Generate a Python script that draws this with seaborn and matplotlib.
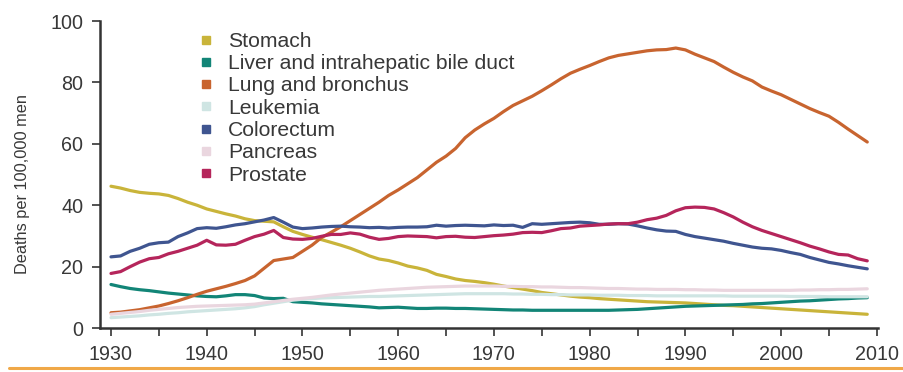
import matplotlib
matplotlib.use("Agg")
import matplotlib.pyplot as plt
from matplotlib.lines import Line2D
import numpy as np
import pandas as pd
import seaborn as sns

years = list(range(1930, 2010))

stomach = [
    46.2, 45.6, 44.8, 44.2, 43.9, 43.7, 43.2, 42.2, 41.0, 40.0,
    38.8, 38.0, 37.2, 36.5, 35.6, 35.0, 34.8, 34.6, 33.0, 31.5,
    30.5, 29.6, 28.8, 27.9, 27.0, 26.0, 24.8, 23.5, 22.5, 22.0,
    21.2, 20.2, 19.6, 18.8, 17.5, 16.8, 16.0, 15.5, 15.2, 14.8,
    14.3, 13.7, 13.2, 12.7, 12.2, 11.6, 11.2, 10.8, 10.4, 10.1,
    9.9, 9.6, 9.4, 9.2, 9.0, 8.8, 8.6, 8.5, 8.4, 8.3,
    8.2, 8.0, 7.8, 7.6, 7.4, 7.3, 7.1, 6.9, 6.7, 6.5,
    6.3, 6.1, 5.9, 5.7, 5.5, 5.3, 5.1, 4.9, 4.7, 4.5,
]
liver = [
    14.2, 13.5, 12.9, 12.5, 12.2, 11.8, 11.4, 11.1, 10.8, 10.5,
    10.3, 10.2, 10.5, 10.9, 10.9, 10.6, 9.8, 9.6, 9.7, 8.6,
    8.4, 8.2, 7.9, 7.7, 7.5, 7.3, 7.1, 6.9, 6.6, 6.7,
    6.8, 6.6, 6.4, 6.4, 6.5, 6.5, 6.4, 6.4, 6.3, 6.2,
    6.1, 6.0, 5.9, 5.9, 5.8, 5.8, 5.8, 5.8, 5.8, 5.8,
    5.8, 5.8, 5.8, 5.9, 6.0, 6.1, 6.3, 6.5, 6.7, 6.9,
    7.1, 7.2, 7.3, 7.4, 7.5, 7.6, 7.7, 7.9, 8.0, 8.2,
    8.4, 8.6, 8.8, 8.9, 9.1, 9.3, 9.5, 9.6, 9.8, 9.9,
]
lung = [
    5.0, 5.2, 5.6, 6.0, 6.6, 7.2, 8.0, 8.9, 9.9, 11.0,
    12.0, 12.8, 13.6, 14.5, 15.5, 17.0, 19.5, 22.0, 22.5, 23.0,
    25.0, 27.0, 29.5, 31.2, 33.0, 35.0, 37.0, 39.0, 41.0, 43.2,
    45.0, 47.0, 49.0, 51.5, 54.0, 56.0, 58.5, 62.0, 64.5, 66.5,
    68.3, 70.5, 72.5, 74.0, 75.5, 77.3, 79.2, 81.2, 83.0, 84.3,
    85.5, 86.8, 88.0, 88.8, 89.3, 89.8, 90.3, 90.6, 90.7, 91.2,
    90.6, 89.2, 88.0, 86.8, 85.0, 83.3, 81.8, 80.5, 78.5, 77.2,
    76.0, 74.5, 73.0, 71.5, 70.2, 69.0, 67.0, 64.8, 62.7, 60.6,
]
leukemia = [
    3.4, 3.6, 3.8, 4.0, 4.3, 4.5, 4.8, 5.0, 5.3, 5.5,
    5.7, 5.9, 6.1, 6.3, 6.6, 7.0, 7.6, 8.1, 8.6, 9.1,
    9.4, 9.6, 9.8, 9.9, 10.0, 10.1, 10.2, 10.3, 10.3, 10.4,
    10.5, 10.6, 10.7, 10.8, 10.9, 11.0, 11.1, 11.2, 11.2, 11.2,
    11.2, 11.2, 11.1, 11.1, 11.0, 11.0, 10.9, 10.9, 10.8, 10.8,
    10.8, 10.7, 10.7, 10.7, 10.6, 10.6, 10.6, 10.5, 10.5, 10.5,
    10.5, 10.5, 10.5, 10.5, 10.5, 10.4, 10.4, 10.4, 10.4, 10.4,
    10.4, 10.3, 10.3, 10.3, 10.3, 10.2, 10.2, 10.2, 10.2, 10.2,
]
colorectum = [
    23.2, 23.5, 25.0, 26.0, 27.3, 27.8, 28.0, 29.8, 31.0, 32.4,
    32.7, 32.5, 33.0, 33.6, 34.0, 34.6, 35.2, 36.0, 34.5, 32.9,
    32.4, 32.6, 32.9, 33.1, 33.2, 33.0, 32.9, 32.7, 32.8, 32.6,
    32.8, 32.9, 32.9, 33.0, 33.5, 33.2, 33.4, 33.5, 33.4, 33.3,
    33.6, 33.4, 33.5, 32.8, 34.0, 33.8, 34.0, 34.2, 34.4, 34.5,
    34.3, 33.8, 33.8, 34.0, 33.9, 33.3, 32.6, 32.0, 31.6, 31.5,
    30.5, 29.8, 29.3, 28.8, 28.3, 27.6, 27.0, 26.4, 26.0, 25.8,
    25.3, 24.6, 24.0, 23.0, 22.2, 21.4, 20.9, 20.3, 19.8, 19.3,
]
pancreas = [
    4.5, 4.8, 5.1, 5.4, 5.8, 6.1, 6.4, 6.7, 6.9, 7.1,
    7.2, 7.3, 7.4, 7.5, 7.6, 7.8, 8.2, 8.6, 9.0, 9.4,
    9.7, 10.0, 10.4, 10.8, 11.1, 11.4, 11.7, 12.0, 12.3, 12.5,
    12.7, 12.9, 13.1, 13.3, 13.4, 13.5, 13.6, 13.7, 13.7, 13.7,
    13.7, 13.6, 13.6, 13.5, 13.5, 13.4, 13.4, 13.3, 13.2, 13.2,
    13.1, 13.0, 12.9, 12.9, 12.8, 12.7, 12.7, 12.6, 12.6, 12.6,
    12.5, 12.5, 12.4, 12.4, 12.3, 12.3, 12.3, 12.3, 12.3, 12.3,
    12.3, 12.3, 12.4, 12.4, 12.5, 12.5, 12.6, 12.6, 12.7, 12.8,
]
prostate = [
    17.8, 18.4, 20.0, 21.5, 22.6, 23.0, 24.2, 25.0, 26.0, 27.0,
    28.6, 27.1, 27.0, 27.3, 28.6, 29.8, 30.6, 31.8, 29.5, 29.0,
    28.9, 29.2, 29.9, 30.5, 30.5, 31.0, 30.6, 29.6, 28.9, 29.2,
    29.8, 30.0, 29.9, 29.8, 29.4, 29.8, 29.9, 29.6, 29.5, 29.8,
    30.1, 30.3, 30.6, 31.1, 31.2, 31.1, 31.7, 32.4, 32.6, 33.2,
    33.4, 33.6, 33.9, 34.0, 34.0, 34.5, 35.3, 35.8, 36.7, 38.2,
    39.2, 39.4, 39.3, 38.8, 37.6, 36.2, 34.5, 33.0, 31.8, 30.8,
    29.8, 28.8, 27.8, 26.7, 25.8, 24.8, 24.0, 23.8, 22.6, 21.9,
]

labels = [
    "Stomach",
    "Liver and intrahepatic bile duct",
    "Lung and bronchus",
    "Leukemia",
    "Colorectum",
    "Pancreas",
    "Prostate",
]
colors = ["#c9b43a", "#128577", "#c8642f", "#cfe5e3", "#3f5590", "#ead6df", "#b5255b"]
series = [stomach, liver, lung, leukemia, colorectum, pancreas, prostate]

df = pd.concat(
    [pd.DataFrame({"Year": years, "Rate": vals, "Site": name})
     for name, vals in zip(labels, series)],
    ignore_index=True,
)

sns.set_style("ticks")
plt.rcParams["font.family"] = ["Liberation Sans", "DejaVu Sans"]
text_color = "#383838"

fig = plt.figure(figsize=(9.04, 3.72), dpi=100)
ax = fig.add_axes([0.1106, 0.118, 0.8604, 0.8255])

palette = dict(zip(labels, colors))
sns.lineplot(data=df, x="Year", y="Rate", hue="Site", hue_order=labels,
             palette=palette, linewidth=2.3, ax=ax, legend=False)

ax.set_xlim(1928.85, 2010.1)
ax.set_ylim(0, 100)
ax.set_xticks(range(1930, 2011, 10))
ax.set_xticks(range(1935, 2010, 10), minor=True)
ax.set_yticks(range(0, 101, 20))
ax.set_xlabel("")
ax.set_ylabel("Deaths per 100,000 men", fontsize=11.8, color=text_color)
ax.yaxis.set_label_coords(-0.09, 0.469)

for side in ("top", "right"):
    ax.spines[side].set_visible(False)
for side in ("left", "bottom"):
    ax.spines[side].set_color("#333333")
    ax.spines[side].set_linewidth(1.8)

ax.tick_params(axis="both", which="both", direction="out", length=6, width=1.3,
               color="#444444")
ax.tick_params(axis="x", labelsize=14.2, labelcolor=text_color, pad=6)
ax.tick_params(axis="y", labelsize=14.2, labelcolor=text_color, pad=6)

handles = [Line2D([], [], linestyle="none", marker="s", markersize=6,
                  markerfacecolor=c, markeredgecolor=c) for c in colors]
ax.legend(handles, labels, loc="upper left", bbox_to_anchor=(0.117, 0.992),
          frameon=False, fontsize=15.2, handlelength=0.6, handletextpad=0.75,
          labelspacing=0.155, borderaxespad=0, labelcolor=text_color)

# thin orange rule along the bottom edge
fig.add_artist(Line2D([0.01, 1.0], [0.01, 0.01], transform=fig.transFigure,
                      color="#f0a848", linewidth=2.2))

fig.savefig("out.png", dpi=100)
